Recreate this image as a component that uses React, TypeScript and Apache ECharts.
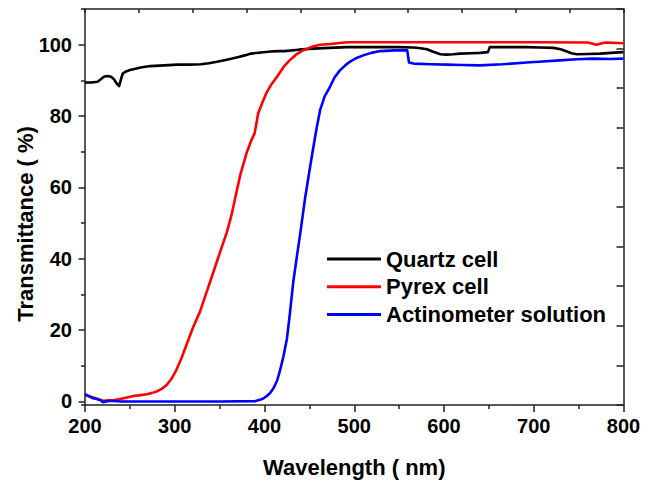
import React, { useEffect, useRef } from "react";
import * as echarts from "echarts";

const seriesNames = ["Quartz cell", "Pyrex cell", "Actinometer solution"];
const seriesColors = ["#000000", "#ff0000", "#0000ff"];

const quartzX = [200, 207, 214, 218, 221, 225, 229, 232, 234, 236, 238, 240, 242, 245, 249, 255, 262, 273, 288, 303, 316, 329, 338, 347, 358, 370, 378, 385, 396, 407, 415, 422, 438, 454, 472, 492, 510, 529, 548, 566, 574, 581, 588, 596, 603, 610, 618, 630, 640, 649, 651, 672, 692, 707, 722, 730, 737, 742, 748, 760, 774, 786, 800];
const quartzY = [89.4, 89.4, 89.6, 90.4, 91.0, 91.2, 91.0, 90.4, 89.6, 88.9, 88.4, 90.2, 91.9, 92.4, 92.8, 93.2, 93.6, 94.0, 94.2, 94.4, 94.4, 94.5, 94.8, 95.2, 95.8, 96.5, 97.0, 97.5, 97.8, 98.1, 98.2, 98.2, 98.6, 98.9, 99.1, 99.3, 99.3, 99.3, 99.3, 99.2, 99.0, 98.7, 98.0, 97.3, 97.2, 97.3, 97.5, 97.6, 97.7, 97.9, 99.3, 99.3, 99.3, 99.2, 99.1, 98.7, 98.1, 97.6, 97.3, 97.4, 97.5, 97.7, 97.9];

const pyrexX = [200, 205, 209, 215, 220, 226, 232, 238, 243, 248, 254, 260, 269, 275, 280, 286, 291, 296, 301, 307, 313, 320, 328, 335, 343, 350, 358, 363, 367, 373, 380, 385, 389, 393, 398, 402, 408, 414, 422, 428, 435, 443, 454, 462, 473, 492, 529, 600, 700, 760, 765, 770, 775, 780, 800];
const pyrexY = [1.8, 1.4, 1.1, 0.6, 0.2, 0.3, 0.4, 0.6, 0.9, 1.2, 1.5, 1.7, 2.0, 2.4, 2.8, 3.6, 4.6, 6.2, 8.4, 11.8, 15.8, 20.5, 25.1, 30.3, 36.2, 41.5, 47.4, 52.0, 56.6, 63.5, 69.6, 73.0, 75.2, 80.8, 84.0, 86.4, 89.0, 91.0, 94.0, 95.6, 97.2, 98.4, 99.5, 100.0, 100.2, 100.7, 100.7, 100.7, 100.7, 100.6, 100.3, 100.0, 100.3, 100.6, 100.4];

const actinoX = [200, 205, 209, 213, 217, 220, 224, 228, 240, 300, 350, 390, 395, 399, 402, 406, 410, 414, 417, 421, 425, 428, 432, 436, 440, 445, 450, 454, 458, 462, 467, 473, 478, 484, 490, 495, 502, 510, 519, 529, 545, 559, 561, 566, 585, 603, 620, 640, 665, 692, 710, 729, 748, 766, 785, 800];
const actinoY = [2.0, 1.4, 0.9, 0.7, 0.4, -0.2, 0.0, 0.2, 0.0, 0.0, 0.0, 0.1, 0.45, 0.9, 1.4, 2.3, 3.7, 5.8, 8.4, 12.5, 17.6, 24.0, 33.4, 40.5, 47.4, 56.6, 64.5, 70.6, 76.5, 81.7, 85.5, 88.2, 90.8, 92.8, 94.2, 95.2, 96.2, 97.0, 97.7, 98.2, 98.4, 98.4, 95.0, 94.7, 94.5, 94.4, 94.3, 94.2, 94.5, 95.0, 95.3, 95.6, 95.9, 96.1, 96.0, 96.1];

const xTitle = "Wavelength ( nm)";
const yTitle = "Transmittance ( %)";

const FONT = 'Arial, "Liberation Sans", sans-serif';
const AXIS_COLOR = "#222";

function pairs(xs: number[], ys: number[]) {
  return xs.map((x, i) => [x, ys[i]]);
}

export default function App() {
  const ref = useRef<HTMLDivElement>(null);
  useEffect(() => {
    if (!ref.current) return;
    const chart = echarts.init(ref.current, null, { renderer: "svg" });
    const lineStyle = { color: AXIS_COLOR, width: 1.5 };
    const labelStyle = { color: "#000", fontWeight: "bold" as const, fontSize: 20, fontFamily: FONT };
    const datasets = [pairs(quartzX, quartzY), pairs(pyrexX, pyrexY), pairs(actinoX, actinoY)];
    chart.setOption({
      animation: false,
      backgroundColor: "#fff",
      grid: { left: 85, right: 33.5, top: 9, bottom: 76.3, containLabel: false },
      legend: {
        orient: "vertical",
        left: 327,
        top: 248,
        padding: 0,
        icon: "rect",
        itemWidth: 54,
        itemHeight: 3,
        itemGap: 5.8,
        textStyle: { color: "#000", fontWeight: "bold", fontSize: 22, fontFamily: FONT, lineHeight: 22 },
        data: seriesNames,
      },
      xAxis: [
        {
          type: "value",
          position: "bottom",
          min: 200,
          max: 800,
          interval: 100,
          axisLine: { show: true, onZero: false, lineStyle },
          axisTick: { show: true, inside: false, length: 7, lineStyle },
          minorTick: { show: true, splitNumber: 2, length: 4, lineStyle },
          axisLabel: { ...labelStyle, margin: 11 },
          splitLine: { show: false },
          minorSplitLine: { show: false },
          name: xTitle,
          nameLocation: "middle",
          nameGap: 51,
          nameTextStyle: { color: "#000", fontWeight: "bold", fontSize: 22, fontFamily: FONT },
        },
        {
          type: "value",
          position: "top",
          min: 200,
          max: 800,
          interval: 60,
          axisLine: { show: true, onZero: false, lineStyle },
          axisTick: { show: true, inside: true, length: 4, lineStyle },
          axisLabel: { show: false },
          splitLine: { show: false },
        },
      ],
      yAxis: [
        {
          type: "value",
          position: "left",
          min: -1,
          max: 110,
          splitNumber: 5,
          minInterval: 20,
          maxInterval: 20,
          axisLine: { show: true, onZero: false, lineStyle },
          axisTick: { show: true, inside: false, length: 6.5, lineStyle },
          axisLabel: { ...labelStyle, margin: 13, showMinLabel: false, showMaxLabel: false,
            formatter: (v: number) => (v % 20 === 0 && v >= 0 && v <= 100 ? String(v) : "") },
          splitLine: { show: false },
        },
        {
          type: "value",
          position: "left",
          offset: 0,
          min: -11,
          max: 100,
          splitNumber: 5,
          minInterval: 20,
          maxInterval: 20,
          axisLine: { show: false, onZero: false },
          axisTick: { show: true, inside: false, length: 4, lineStyle },
          axisLabel: { show: false },
          splitLine: { show: false },
        },
        {
          type: "value",
          position: "right",
          min: 0,
          max: 10,
          interval: 1,
          axisLine: { show: true, onZero: false, lineStyle },
          axisTick: { show: true, inside: true, length: 7, lineStyle },
          axisLabel: { show: false },
          splitLine: { show: false },
        },
      ],
      graphic: [
        {
          type: "text",
          x: 25,
          y: 224,
          rotation: Math.PI / 2,
          style: {
            text: yTitle,
            fill: "#000",
            font: `bold 22px ${FONT}`,
            align: "center",
            verticalAlign: "middle",
          },
        },
      ],
      series: seriesNames.map((name, i) => ({
        name,
        type: "line",
        xAxisIndex: 0,
        yAxisIndex: 0,
        data: datasets[i],
        showSymbol: false,
        symbol: "none",
        lineStyle: { color: seriesColors[i], width: 2.6, join: "round" },
        itemStyle: { color: seriesColors[i] },
        z: 2 + i,
      })),
    });
    return () => chart.dispose();
  }, []);
  return <div ref={ref} style={{ width: 657, height: 483, position: "absolute", left: 0, top: 0 }} />;
}
